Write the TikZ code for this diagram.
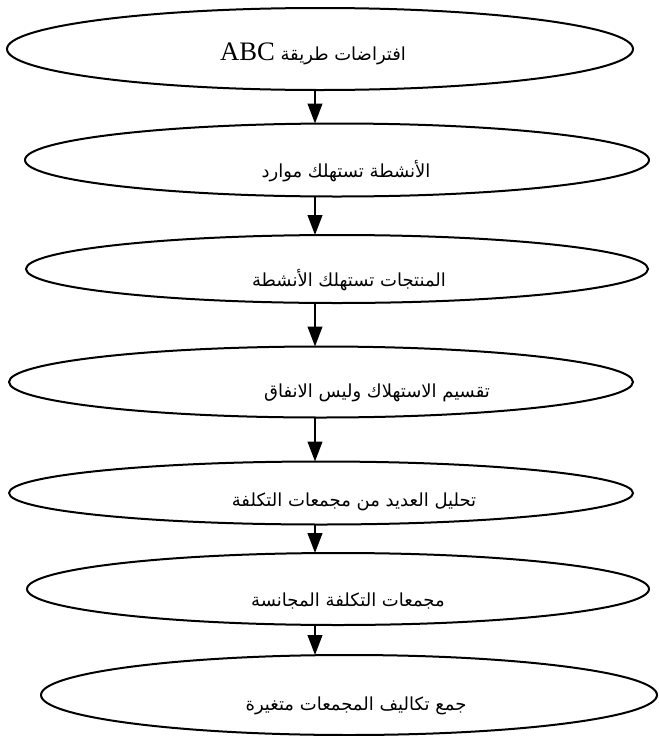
\documentclass[tikz,border=0pt]{standalone}
\usepackage{fontspec}
\setmainfont{Liberation Serif}
\newfontfamily\arabicfont[Script=Arabic]{DejaVu Sans}
\TeXXeTstate=1
\usetikzlibrary{shapes.geometric,arrows.meta}

\begin{document}
\begin{tikzpicture}[x=0.75pt, y=-0.75pt,
        oval/.style={
          ellipse, draw=black, line width=1.5pt,
          inner sep=0pt, outer sep=0pt,
        },
        arr/.style={-{Triangle[length=15pt,width=11pt]}, draw=black, line width=1.5pt},
        lbl/.style={font=\arabicfont\fontsize{13.5}{16}\selectfont, inner sep=0pt},
      ]
      \useasboundingbox (0,0) rectangle (658,736);

      \node[oval, minimum width=469.5pt, minimum height=61.5pt] (e1) at (320,49) {};
      \node[oval, minimum width=468pt, minimum height=54.75pt] (e2) at (337,160) {};
      \node[oval, minimum width=466.5pt, minimum height=51pt] (e3) at (337,269) {};
      \node[oval, minimum width=468pt, minimum height=53.25pt] (e4) at (321,382) {};
      \node[oval, minimum width=468pt, minimum height=47.25pt] (e5) at (321,493) {};
      \node[oval, minimum width=466.5pt, minimum height=54pt] (e6) at (338,589) {};
      \node[oval, minimum width=462pt, minimum height=60pt] (e7) at (349,695) {};

      \node[lbl] (t1) at (313,54) {\beginR افتراضات طريقة {\rmfamily\fontsize{20}{24}\selectfont\beginL ABC\endL}\endR};
      \node[lbl] (t2) at (346,171) {\beginR الأنشطة تستهلك موارد\endR};
      \node[lbl] (t3) at (349,280) {\beginR المنتجات تستهلك الأنشطة\endR};
      \node[lbl] (t4) at (377,393) {\beginR تقسيم الاستهلاك وليس الانفاق\endR};
      \node[lbl] (t5) at (354,502) {\beginR تحليل العديد من مجمعات التكلفة\endR};
      \node[lbl] (t6) at (348,601) {\beginR مجمعات التكلفة المجانسة\endR};
      \node[lbl] (t7) at (356,706) {\beginR جمع تكاليف المجمعات متغيرة\endR};

      \coordinate (ax) at (315,0);
      \draw[arr] (e1.south -| ax) -- (e2.north -| ax);
      \draw[arr] (e2.south -| ax) -- (e3.north -| ax);
      \draw[arr] (e3.south -| ax) -- (e4.north -| ax);
      \draw[arr] (e4.south -| ax) -- (e5.north -| ax);
      \draw[arr] (e5.south -| ax) -- (e6.north -| ax);
      \draw[arr] (e6.south -| ax) -- (e7.north -| ax);
    \end{tikzpicture}
\end{document}
